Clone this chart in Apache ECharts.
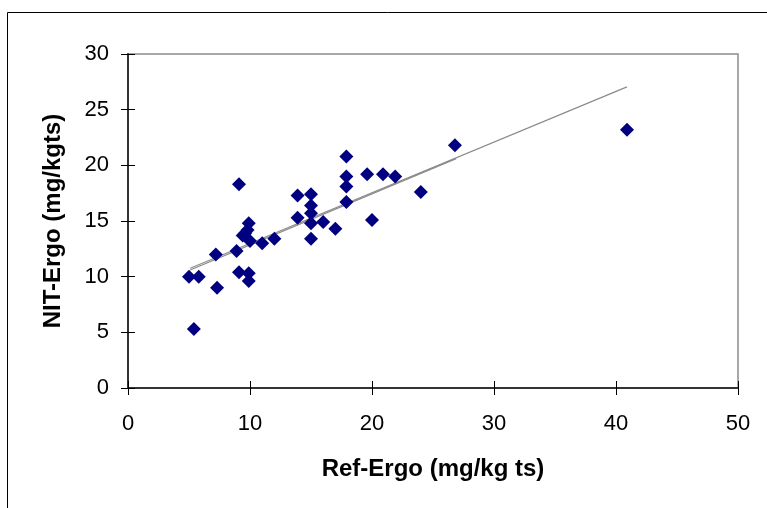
<!DOCTYPE html>
<html>
<head>
<meta charset="utf-8">
<script src="https://cdn.jsdelivr.net/npm/echarts@6/dist/echarts.min.js"></script>
<style>
  html, body { margin: 0; padding: 0; background: #fff; }
  #chart { width: 767px; height: 508px; }
</style>
</head>
<body>
<div id="chart"></div>
<script>
// Ref-Ergo vs NIT-Ergo
var refErgo = [5.0, 5.8, 5.4, 7.3, 7.2, 9.1, 8.9, 9.1, 9.9, 9.9,
    9.9, 9.8, 9.4, 10.0, 9.6, 11.0, 12.0, 13.9, 13.9, 15.0,
    15.0, 15.0, 15.0, 15.0, 16.0, 17.0, 17.9, 17.9, 17.9, 17.9,
    19.6, 20.0, 20.9, 21.9, 24.0, 26.8, 40.9];
var nitErgo = [10.0, 10.0, 5.3, 9.0, 12.0, 18.3, 12.3, 10.4, 10.3, 9.6,
    14.8, 14.2, 13.7, 13.2, 13.9, 13.0, 13.4, 17.3, 15.3, 17.4,
    16.4, 15.7, 14.8, 13.4, 14.9, 14.3, 20.8, 19.0, 18.1, 16.7,
    19.2, 15.1, 19.2, 19.0, 17.6, 21.8, 23.2];

// two trend lines (all points / without the outlier at 41)
var trendAllX = [5.1, 40.9];
var trendAllY = [10.75, 27.05];
var trendSubX = [5.1, 26.9];
var trendSubY = [10.6, 20.6];

var xTicks = [0, 10, 20, 30, 40, 50];
var yTicks = [0, 5, 10, 15, 20, 25, 30];

function pairs(xs, ys) {
    var out = [];
    for (var i = 0; i < xs.length; i++) out.push([xs[i], ys[i]]);
    return out;
}

var FONT = 'Liberation Sans, Arial, sans-serif';

var chart = echarts.init(document.getElementById('chart'));
chart.setOption({
    animation: false,
    backgroundColor: '#fff',
    graphic: [{
        type: 'rect',
        shape: { x: 7.5, y: 12.5, width: 800, height: 600 },
        style: { fill: 'none', stroke: '#000', lineWidth: 1 },
        silent: true
    }],
    grid: { left: 128, top: 54, right: 29, bottom: 120, show: true,
        borderColor: '#8c8c8c', borderWidth: 1.5, backgroundColor: 'transparent' },
    xAxis: [{
        type: 'value', min: 0, max: 50, interval: 10,
        name: 'Ref-Ergo (mg/kg ts)', nameLocation: 'middle', nameGap: 69,
        nameTextStyle: { fontFamily: FONT, fontSize: 24, fontWeight: 'bold', color: '#000' },
        axisLine: { show: true, onZero: false, lineStyle: { color: '#333', width: 2 } },
        axisTick: { show: true, length: 7, lineStyle: { color: '#000' } },
        axisLabel: { margin: 25, fontFamily: FONT, fontSize: 22, color: '#000',
            formatter: function (v) { return xTicks.indexOf(v) >= 0 ? String(v) : ''; } },
        splitLine: { show: false }
    }, {
        type: 'value', min: 0, max: 50, interval: 10, position: 'bottom',
        axisLine: { show: false },
        axisTick: { show: true, inside: true, length: 7, lineStyle: { color: '#000' } },
        axisLabel: { show: false }, splitLine: { show: false }
    }],
    yAxis: [{
        type: 'value', min: 0, max: 30, interval: 5,
        name: 'NIT-Ergo (mg/kgts)', nameLocation: 'middle', nameGap: 63,
        nameTextStyle: { fontFamily: FONT, fontSize: 24, fontWeight: 'bold', color: '#000' },
        axisLine: { show: true, onZero: false, lineStyle: { color: '#333', width: 2 } },
        axisTick: { show: true, length: 7, lineStyle: { color: '#000' } },
        axisLabel: { margin: 19, fontFamily: FONT, fontSize: 22, color: '#000',
            formatter: function (v) { return yTicks.indexOf(v) >= 0 ? String(v) : ''; } },
        splitLine: { show: false }
    }, {
        type: 'value', min: 0, max: 30, interval: 5, position: 'left',
        axisLine: { show: false },
        axisTick: { show: true, inside: true, length: 7, lineStyle: { color: '#000' } },
        axisLabel: { show: false }, splitLine: { show: false }
    }],
    series: [{
        type: 'line',
        data: pairs(trendAllX, trendAllY),
        symbol: 'none',
        lineStyle: { color: '#8a8a8a', width: 1.2 },
        z: 2
    }, {
        type: 'line',
        data: pairs(trendSubX, trendSubY),
        symbol: 'none',
        lineStyle: { color: '#8a8a8a', width: 1.2 },
        z: 2
    }, {
        type: 'scatter',
        data: pairs(refErgo, nitErgo),
        symbol: 'diamond',
        symbolSize: 14,
        itemStyle: { color: '#000080', opacity: 1 },
        z: 3
    }]
});
</script>
</body>
</html>
